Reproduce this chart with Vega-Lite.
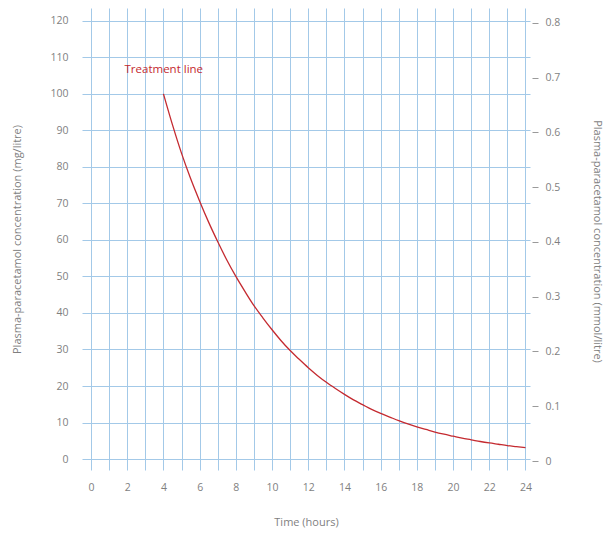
{
  "$schema": "https://vega.github.io/schema/vega-lite/v6.json",
  "autosize": "none",
  "width": 448,
  "height": 462,
  "padding": {"left": 82, "top": 8, "right": 76, "bottom": 65},
  "config": {
    "view": {"stroke": null},
    "font": "Open Sans",
    "axis": {"labelFont": "Open Sans", "titleFont": "Open Sans", "labelColor": "#7f7f7f", "titleColor": "#7f7f7f", "labelFontSize": 10.5, "titleFontSize": 11, "titleFontWeight": "normal", "gridColor": "#a3c9e8", "gridOpacity": 1, "gridWidth": 1}
  },
  "datasets": {
    "curve": [
      {"t": 4, "mg": 100}, {"t": 4.5, "mg": 91.5}, {"t": 5, "mg": 83.7}, {"t": 5.5, "mg": 76.8},
      {"t": 6, "mg": 70.6}, {"t": 6.5, "mg": 64.8}, {"t": 7, "mg": 59.5}, {"t": 7.5, "mg": 54.5},
      {"t": 8, "mg": 50}, {"t": 8.5, "mg": 45.9}, {"t": 9, "mg": 42.0}, {"t": 9.5, "mg": 38.6},
      {"t": 10, "mg": 35.4}, {"t": 10.5, "mg": 32.4}, {"t": 11, "mg": 29.7}, {"t": 11.5, "mg": 27.3},
      {"t": 12, "mg": 25}, {"t": 12.5, "mg": 22.9}, {"t": 13, "mg": 21.0}, {"t": 13.5, "mg": 19.3},
      {"t": 14, "mg": 17.7}, {"t": 14.5, "mg": 16.2}, {"t": 15, "mg": 14.9}, {"t": 15.5, "mg": 13.6},
      {"t": 16, "mg": 12.5}, {"t": 16.5, "mg": 11.5}, {"t": 17, "mg": 10.5}, {"t": 17.5, "mg": 9.6},
      {"t": 18, "mg": 8.8}, {"t": 18.5, "mg": 8.1}, {"t": 19, "mg": 7.4}, {"t": 19.5, "mg": 6.8},
      {"t": 20, "mg": 6.25}, {"t": 20.5, "mg": 5.7}, {"t": 21, "mg": 5.26}, {"t": 21.5, "mg": 4.8},
      {"t": 22, "mg": 4.4}, {"t": 22.5, "mg": 4.05}, {"t": 23, "mg": 3.7}, {"t": 23.5, "mg": 3.4},
      {"t": 24, "mg": 3.1}
    ],
    "label": [{"t": 1.85, "mg": 106.5, "text": "Treatment line"}]
  },
  "resolve": {"axis": {"y": "independent"}},
  "encoding": {
    "x": {"field": "t", "type": "quantitative",
      "scale": {"domain": [-0.5, 24.25], "nice": false, "zero": false},
      "axis": {"title": "Time (hours)", "values": [0,1,2,3,4,5,6,7,8,9,10,11,12,13,14,15,16,17,18,19,20,21,22,23,24],
        "labelExpr": "datum.value % 2 == 0 ? datum.label : ''", "labelOverlap": false, "domain": false, "ticks": false, "labelPadding": 12, "titlePadding": 24, "labelFlush": false}}
  },
  "layer": [
    {
      "data": {"name": "curve"},
      "mark": {"type": "line", "color": "#c42a30", "strokeWidth": 1.3, "interpolate": "monotone"},
      "encoding": {
        "y": {"field": "mg", "type": "quantitative",
          "scale": {"domain": [-3, 123.5], "nice": false, "zero": false},
          "axis": {"title": "Plasma-paracetamol concentration (mg/litre)", "values": [0,10,20,30,40,50,60,70,80,90,100,110,120],
            "domain": false, "ticks": false, "labelPadding": 14, "titlePadding": 27, "labelFlush": false}}
      }
    },
    {
      "data": {"name": "label"},
      "mark": {"type": "text", "align": "left", "baseline": "middle", "color": "#c42a30", "fontSize": 11.5, "font": "Open Sans"},
      "encoding": {
        "y": {"field": "mg", "type": "quantitative",
          "axis": {"orient": "right", "title": "Plasma-paracetamol concentration (mmol/litre)", "values": [0,15,30,45,60,75,90,105,120],
            "labelExpr": "datum.value == 0 ? '0' : format(datum.value / 150, '.1f')",
            "grid": false, "domain": false, "ticks": true, "tickSize": 6, "tickOffset": 0, "tickColor": "#9a9a9a", "labelPadding": 7, "titlePadding": 32, "labelFlush": false, "translate": 2.5}},
        "text": {"field": "text"}
      }
    }
  ]
}
